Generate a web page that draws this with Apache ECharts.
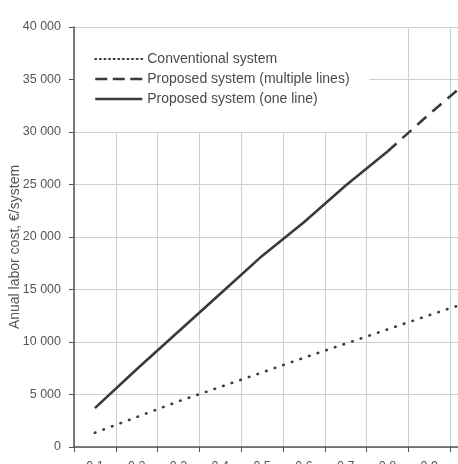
<!DOCTYPE html>
<html>
<head>
<meta charset="utf-8">
<script src="https://cdn.jsdelivr.net/npm/echarts@6/dist/echarts.min.js"></script>
<style>
  html, body { margin: 0; padding: 0; background: #fff; }
  #chart { width: 458px; height: 464px; }
</style>
</head>
<body>
<div id="chart"></div>
<script>
// x categories (the last one lies past the right edge of the picture)
const categories = ['0.1', '0.2', '0.3', '0.4', '0.5', '0.6', '0.7', '0.8', '0.9', '1.0'];

// annual labor cost, €/system
const conventional = [1360, 2850, 4350, 5720, 7100, 8500, 9850, 11200, 12560, 13880];
const proposedOneLine = [3700, 7400, 11000, 14600, 18200, 21400, 24900, 28150, null, null];
const proposedMultiple = [null, null, null, null, null, null, null, 28150, 31700, 35100];

const seriesNames = ['Conventional system', 'Proposed system (multiple lines)', 'Proposed system (one line)'];

const yTicks = { min: 0, max: 40000, interval: 5000 };

const FONT = '"Liberation Sans", Arial, sans-serif';
const INK = '#3a3a3a';

// 40000 -> "40 000"
const fmt = (v) => String(v).replace(/\B(?=(\d{3})+(?!\d))/g, ' ');

const chart = echarts.init(document.getElementById('chart'));

chart.setOption({
  animation: false,
  backgroundColor: '#fff',
  textStyle: { fontFamily: FONT },
  grid: { left: 74, top: 27, right: -34, bottom: 17, containLabel: false, outerBoundsMode: 'none' },
  legend: {
    orient: 'vertical',
    left: 75,
    top: 28,
    padding: [24, 20, 26, 19],
    backgroundColor: '#fff',
    itemWidth: 47,
    itemHeight: 14,
    itemGap: 6,
    itemStyle: { opacity: 0 },
    textStyle: { fontSize: 14, color: '#4a4a4a', fontFamily: FONT },
    data: [
      { name: seriesNames[0], lineStyle: { type: [1, 3.6], width: 2, cap: 'round', color: INK } },
      { name: seriesNames[1], lineStyle: { type: [12, 5.5], width: 2.5, color: INK } },
      { name: seriesNames[2], lineStyle: { type: 'solid', width: 2.5, color: INK } },
    ],
    z: 10,
  },
  xAxis: {
    type: 'category',
    data: categories,
    boundaryGap: true,
    axisLine: { lineStyle: { color: '#555', width: 1.5 } },
    axisTick: { show: true, inside: false, length: 5, interval: 0, lineStyle: { color: '#555' } },
    axisLabel: { interval: 0, margin: 13, fontSize: 12.5, color: '#555' },
    splitLine: { show: true, interval: 0, lineStyle: { color: '#cfcfcf', width: 1 } },
  },
  yAxis: {
    type: 'value',
    min: yTicks.min,
    max: yTicks.max,
    interval: yTicks.interval,
    name: 'Anual labor cost, €/system',
    nameLocation: 'middle',
    nameGap: 52,
    nameMoveOverlap: false,
    nameTextStyle: { fontSize: 14, color: '#555', fontFamily: FONT, padding: [0, 20, 0, 0] },
    axisLine: { show: true, lineStyle: { color: '#555', width: 1.5 } },
    axisTick: { show: true, inside: false, length: 5, lineStyle: { color: '#555' } },
    axisLabel: { margin: 13, fontSize: 12.5, color: '#555', formatter: fmt },
    splitLine: { show: true, lineStyle: { color: '#cfcfcf', width: 1 } },
  },
  series: [
    {
      name: seriesNames[0],
      type: 'line',
      data: conventional,
      symbol: 'none',
      lineStyle: { color: INK, width: 2.6, type: [0.5, 8.6], cap: 'round' },
      itemStyle: { color: INK },
      z: 3,
    },
    {
      name: seriesNames[1],
      type: 'line',
      data: proposedMultiple,
      symbol: 'none',
      lineStyle: { color: INK, width: 2.6, type: [12, 8] },
      itemStyle: { color: INK },
      z: 3,
    },
    {
      name: seriesNames[2],
      type: 'line',
      data: proposedOneLine,
      symbol: 'none',
      lineStyle: { color: INK, width: 2.6, type: 'solid' },
      itemStyle: { color: INK },
      z: 3,
    },
  ],
});
</script>
</body>
</html>
